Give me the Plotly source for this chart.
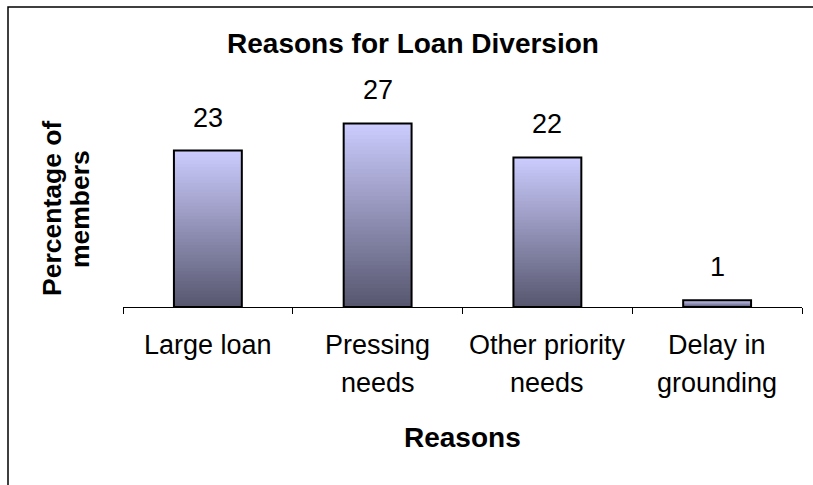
import plotly.graph_objects as go

# ---- data ----
categories = ["Large loan", "Pressing needs", "Other priority needs", "Delay in grounding"]
tick_lines = [["Large loan"], ["Pressing", "needs"], ["Other priority", "needs"], ["Delay in", "grounding"]]
values = [23, 27, 22, 1]
title_text = "Reasons for Loan Diversion"
x_title = "Reasons"
y_title_lines = ["Percentage of", "members"]

# ---- layout geometry (pixels) ----
W, H = 813, 485
L, R, T, B = 123, 11, 103, 178
PW, PH = W - L - R, H - T - B
FONT = "Liberation Sans, Arial, sans-serif"

def px_x(p):
    return (p - L) / PW

def px_y(p):
    return (H - B - p) / PH

fig = go.Figure()

# gradient fill: overlapping layers, each from its base to the bar top (no seams)
N = 48
top_c = (204, 204, 255)
bot_c = (86, 86, 110)
for i in range(N):
    f = (i + 0.5) / N  # 0 bottom -> 1 top
    c = tuple(round(bot_c[k] + (top_c[k] - bot_c[k]) * f) for k in range(3))
    fig.add_trace(go.Bar(
        x=categories,
        y=[v * (1 - i / N) for v in values],
        base=[v * i / N for v in values],
        width=0.4,
        marker=dict(color="rgb(%d,%d,%d)" % c, line=dict(width=0)),
        showlegend=False, hoverinfo="skip",
    ))

# outline
fig.add_trace(go.Bar(
    x=categories, y=values, width=0.4,
    marker=dict(color="rgba(0,0,0,0)", line=dict(color="black", width=2)),
    showlegend=False,
))

annotations = []
# value labels
for cat, v in zip(categories, values):
    annotations.append(dict(x=cat, y=v, xref="x", yref="y", text=str(v), showarrow=False,
                            yanchor="middle", yshift=33, font=dict(family=FONT, size=27, color="black")))
# category labels (one annotation per line)
for cat, lines in zip(categories, tick_lines):
    for j, ln in enumerate(lines):
        annotations.append(dict(x=cat, y=0, xref="x", yref="paper", text=ln, showarrow=False,
                                yanchor="middle", yshift=-38 - 38 * j,
                                font=dict(family=FONT, size=27, color="black")))
# x title
annotations.append(dict(x=0.5, y=px_y(437), xref="paper", yref="paper", text="<b>%s</b>" % x_title,
                        showarrow=False, yanchor="middle", xanchor="center",
                        font=dict(family=FONT, size=28, color="black")))
# y title (two lines, rotated)
for j, ln in enumerate(y_title_lines):
    annotations.append(dict(x=px_x(52 + 28 * j), y=px_y(209), xref="paper", yref="paper",
                            text="<b>%s</b>" % ln, textangle=-90, showarrow=False,
                            xanchor="center", yanchor="middle",
                            font=dict(family=FONT, size=26.5, color="black")))

fig.update_layout(
    width=W, height=H,
    margin=dict(l=L, r=R, t=T, b=B, pad=0),
    paper_bgcolor="white", plot_bgcolor="white",
    barmode="overlay",
    hovermode=False,
    title=dict(text="<b>%s</b>" % title_text, x=413 / W, xanchor="center",
               y=1 - 43 / H, yanchor="middle",
               font=dict(family=FONT, size=28, color="black")),
    xaxis=dict(showline=True, linecolor="black", linewidth=1, ticks="outside",
               tickson="boundaries", ticklen=6, tickcolor="black", tickwidth=1,
               showticklabels=False, showgrid=False, zeroline=False, fixedrange=True),
    yaxis=dict(range=[0, 30], visible=False, showgrid=False, zeroline=False, fixedrange=True),
    annotations=annotations,
    shapes=[dict(type="rect", xref="paper", yref="paper",
                 x0=px_x(8), x1=px_x(900), y0=px_y(600), y1=px_y(7),
                 line=dict(color="black", width=1.5), fillcolor="rgba(0,0,0,0)", layer="below")],
)

fig.write_html("out.html", config={"displayModeBar": False, "staticPlot": True},
               post_script="document.body.style.margin='0';document.body.style.padding='0';")
